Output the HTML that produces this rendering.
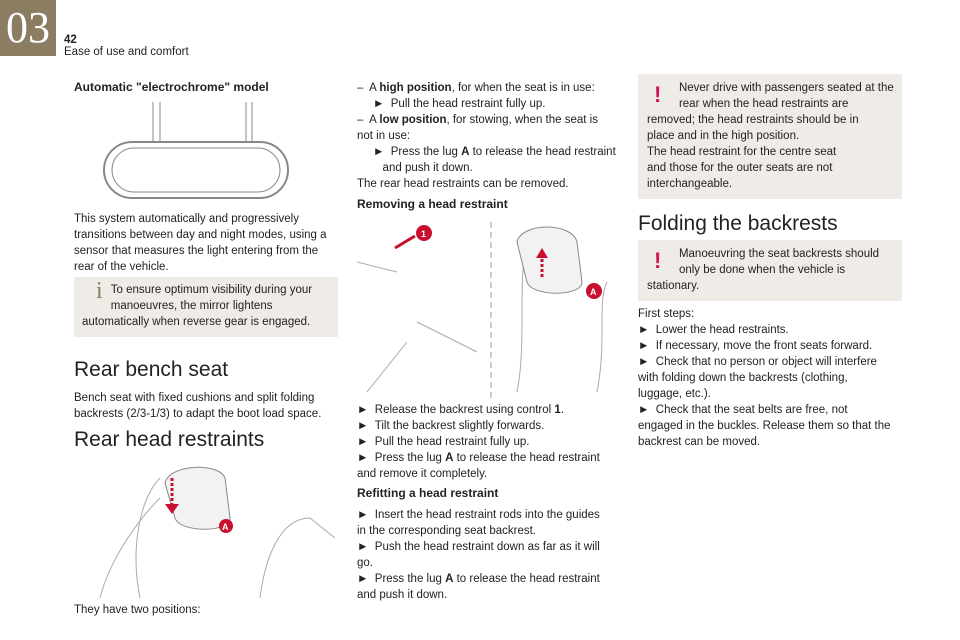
<!DOCTYPE html>
<html><head><style>
body{margin:0;width:960px;height:640px;background:#fff;font-family:"Liberation Sans",sans-serif;color:#222;position:relative;overflow:hidden}
.a{position:absolute;font-size:11.5px;line-height:16px;white-space:nowrap}
.h1{position:absolute;font-size:21px;color:#222}
.h3{position:absolute;font-size:12px;font-weight:bold}
.box{position:absolute;background:#efece8}
.ex{position:absolute;color:#d4145a;font-size:22px;font-weight:bold;line-height:22px}
b{font-weight:bold}
.pic{position:absolute;border:none}
</style></head><body>
<div style="position:absolute;left:0;top:0;width:56px;height:56px;background:#8b7d62;color:#fff;font-family:'Liberation Serif',serif;font-size:44px;line-height:56px;text-align:center">03</div>
<div class="a" style="left:64px;top:32px;font-weight:bold">42</div>
<div class="a" style="left:64px;top:44px">Ease of use and comfort</div>

<div class="h3" style="left:74px;top:80px">Automatic "electrochrome" model</div>
<svg class="pic" style="left:100px;top:102px" width="190" height="100"><g fill="none" stroke="#888" stroke-width="1"><path d="M53 0V40M60 0V40M146 0V40M152 0V40"/><rect x="4" y="40" width="184" height="56" rx="28" stroke-width="2"/><rect x="12" y="46" width="168" height="44" rx="22"/></g></svg>
<div class="a" style="left:74px;top:211px">This system automatically and progressively<br>transitions between day and night modes, using a<br>sensor that measures the light entering from the<br>rear of the vehicle.</div>
<div class="box" style="left:74px;top:277px;width:264px;height:60px"></div>
<div class="a" style="left:96px;top:283px;color:#8b7d62;font-size:24px;font-family:'Liberation Serif',serif">i</div>
<div class="a" style="left:82px;top:282px">&nbsp;&nbsp;&nbsp;&nbsp;&nbsp;&nbsp;&nbsp;&nbsp;&nbsp;To ensure optimum visibility during your<br>&nbsp;&nbsp;&nbsp;&nbsp;&nbsp;&nbsp;&nbsp;&nbsp;&nbsp;manoeuvres, the mirror lightens<br>automatically when reverse gear is engaged.</div>
<div class="h1" style="left:74px;top:358px">Rear bench seat</div>
<div class="a" style="left:74px;top:390px">Bench seat with fixed cushions and split folding<br>backrests (2/3-1/3) to adapt the boot load space.</div>
<div class="h1" style="left:74px;top:428px">Rear head restraints</div>
<svg class="pic" style="left:80px;top:458px" width="260" height="140"><g fill="none" stroke="#aaa"><path d="M60 140C50 90 60 40 80 20M180 140C185 100 200 60 230 60L255 80M20 140C30 100 60 60 80 40"/><path d="M85 25C90 5 140 5 145 20L150 60C150 75 100 75 95 60Z" fill="#f2f2f2" stroke="#888"/></g><path d="M92 20V48" stroke="#c8102e" stroke-width="3" stroke-dasharray="3 2"/><path d="M85 46L92 56L99 46Z" fill="#c8102e"/><circle cx="146" cy="68" r="7" fill="#c8102e"/><text x="142" y="72" fill="#fff" font-size="9" font-weight="bold">A</text></svg>
<div class="a" style="left:74px;top:602px">They have two positions:</div>

<div class="a" style="left:357px;top:80px">–&nbsp; A <b>high position</b>, for when the seat is in use:<br>&nbsp;&nbsp;&nbsp;&nbsp;&nbsp;► &nbsp;Pull the head restraint fully up.<br>–&nbsp; A <b>low position</b>, for stowing, when the seat is<br>not in use:<br>&nbsp;&nbsp;&nbsp;&nbsp;&nbsp;► &nbsp;Press the lug <b>A</b> to release the head restraint<br>&nbsp;&nbsp;&nbsp;&nbsp;&nbsp;&nbsp;&nbsp;&nbsp;and push it down.<br>The rear head restraints can be removed.</div>
<div class="h3" style="left:357px;top:197px">Removing a head restraint</div>
<svg class="pic" style="left:357px;top:222px" width="260" height="176"><g fill="none" stroke="#aaa"><path d="M0 40L40 50M10 170L50 120M60 100L120 130" /><path d="M134 0V176" stroke="#999" stroke-dasharray="6 4"/><path d="M160 170C170 120 160 60 170 20M240 170C250 120 240 80 250 60"/><path d="M160 20C165 0 215 0 220 20L225 60C225 75 175 75 170 60Z" fill="#f2f2f2" stroke="#888"/></g><circle cx="67" cy="11" r="8" fill="#c8102e"/><text x="64" y="15" fill="#fff" font-size="9" font-weight="bold">1</text><path d="M58 14L38 26" stroke="#c8102e" stroke-width="3"/><path d="M185 55V35" stroke="#c8102e" stroke-width="3" stroke-dasharray="3 2"/><path d="M179 36L185 26L191 36Z" fill="#c8102e"/><circle cx="237" cy="69" r="8" fill="#c8102e"/><text x="233" y="73" fill="#fff" font-size="9" font-weight="bold">A</text></svg>
<div class="a" style="left:357px;top:402px">► &nbsp;Release the backrest using control <b>1</b>.<br>► &nbsp;Tilt the backrest slightly forwards.<br>► &nbsp;Pull the head restraint fully up.<br>► &nbsp;Press the lug <b>A</b> to release the head restraint<br>and remove it completely.</div>
<div class="h3" style="left:357px;top:486px">Refitting a head restraint</div>
<div class="a" style="left:357px;top:507px">► &nbsp;Insert the head restraint rods into the guides<br>in the corresponding seat backrest.<br>► &nbsp;Push the head restraint down as far as it will<br>go.<br>► &nbsp;Press the lug <b>A</b> to release the head restraint<br>and push it down.</div>

<div class="box" style="left:638px;top:74px;width:264px;height:125px"></div>
<div class="ex" style="left:654px;top:84px">!</div>
<div class="a" style="left:647px;top:80px">&nbsp;&nbsp;&nbsp;&nbsp;&nbsp;&nbsp;&nbsp;&nbsp;&nbsp;&nbsp;Never drive with passengers seated at the<br>&nbsp;&nbsp;&nbsp;&nbsp;&nbsp;&nbsp;&nbsp;&nbsp;&nbsp;&nbsp;rear when the head restraints are<br>removed; the head restraints should be in<br>place and in the high position.<br>The head restraint for the centre seat<br>and those for the outer seats are not<br>interchangeable.</div>
<div class="h1" style="left:638px;top:212px">Folding the backrests</div>
<div class="box" style="left:638px;top:240px;width:264px;height:61px"></div>
<div class="ex" style="left:654px;top:250px">!</div>
<div class="a" style="left:647px;top:246px">&nbsp;&nbsp;&nbsp;&nbsp;&nbsp;&nbsp;&nbsp;&nbsp;&nbsp;&nbsp;Manoeuvring the seat backrests should<br>&nbsp;&nbsp;&nbsp;&nbsp;&nbsp;&nbsp;&nbsp;&nbsp;&nbsp;&nbsp;only be done when the vehicle is<br>stationary.</div>
<div class="a" style="left:638px;top:306px">First steps:<br>► &nbsp;Lower the head restraints.<br>► &nbsp;If necessary, move the front seats forward.<br>► &nbsp;Check that no person or object will interfere<br>with folding down the backrests (clothing,<br>luggage, etc.).<br>► &nbsp;Check that the seat belts are free, not<br>engaged in the buckles. Release them so that the<br>backrest can be moved.</div>
</body></html>
